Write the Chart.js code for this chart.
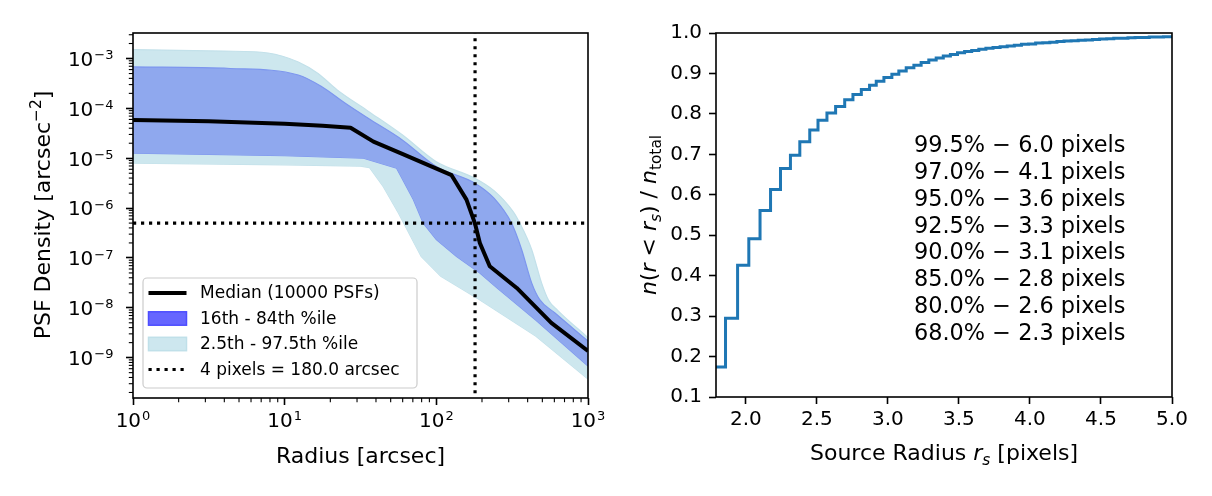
<!DOCTYPE html>
<html>
<head>
<meta charset="utf-8">
<script src="https://cdn.jsdelivr.net/npm/chart.js@4.4.1/dist/chart.umd.min.js"></script>
<style>
body{margin:0;background:#fff;}
#quadro{position:relative;width:1212px;height:496px;background:#fff;}
canvas{position:absolute;top:0;}
</style>
</head>
<body>
<div id="quadro">
  <canvas id="graficoPsf" width="615" height="496" style="left:0"></canvas>
  <canvas id="graficoFracao" width="597" height="496" style="left:615px"></canvas>
</div>
<script>
// Dados painel esquerdo (densidade da PSF x raio)

const raioMediana = [1, 3.16, 10, 17.8, 27.2, 38.5, 59.6, 126, 158, 179.5, 193.6, 225, 339, 573, 1000]
const densMediana = [5.85e-5, 5.5e-5, 4.9e-5, 4.47e-5, 4.1e-5, 2.15e-5, 1.22e-5, 4.57e-6, 1.48e-6, 5.0e-7, 2.0e-7, 6.8e-8, 2.5e-8, 5.0e-9, 1.36e-9]

const raio84 = [1, 4.37, 12.3, 17.6, 25.1, 35.5, 59.6, 100, 179.5, 240, 313, 365, 425, 479, 603, 1000]
const dens84 = [6.8e-4, 6.31e-4, 4.68e-4, 2.71e-4, 1.26e-4, 6.31e-5, 2.33e-5, 6.81e-6, 3.16e-6, 1.58e-6, 5.0e-7, 1.48e-7, 3.16e-8, 1.48e-8, 7.94e-9, 2.15e-9]

const raio16 = [1, 10, 33.1, 54.7, 70.5, 82.0, 100, 136, 193.6, 251, 454, 1000]
const dens16 = [1.26e-5, 1.12e-5, 1.0e-5, 6.31e-6, 1.48e-6, 5.0e-7, 2.34e-7, 1.07e-7, 5.0e-8, 2.51e-8, 5.62e-9, 6.8e-10]

const raio975 = [1, 3.98, 7.76, 12.3, 16.6, 22.2, 35.3, 59.6, 100, 179.5, 240, 321, 355, 425, 494, 550, 631, 1000]
const dens975 = [1.51e-3, 1.41e-3, 1.29e-3, 8.5e-4, 5.0e-4, 2.34e-4, 8.9e-5, 2.95e-5, 8.5e-6, 3.98e-6, 2.24e-6, 8.5e-7, 5.0e-7, 1.48e-7, 3.16e-8, 1.41e-8, 8.9e-9, 2.51e-9]

const raio25 = [1, 10, 31.6, 36.3, 44.7, 56.2, 79.4, 107, 190.5, 454, 1000]
const dens25 = [7.94e-6, 7.36e-6, 6.92e-6, 6.5e-6, 2.69e-6, 7.94e-7, 1.07e-7, 4.27e-8, 1.48e-8, 2.69e-9, 3.72e-10]

const raioCorte = 180
const densCorte = 5e-7

const ticksRaio = [1, 10, 100, 1000]
const ticksDens = [1e-9, 1e-8, 1e-7, 1e-6, 1e-5, 1e-4, 1e-3]

const legendaPsf = ['Median (10000 PSFs)', '16th - 84th %ile', '2.5th - 97.5th %ile', '4 pixels = 180.0 arcsec']

// Dados painel direito (fracao acumulada x raio da fonte)

const raioFonte = [1.79, 1.857, 1.942, 2.021, 2.100, 2.174, 2.244, 2.314, 2.38, 2.45, 2.508, 2.571, 2.632, 2.696, 2.754, 2.813, 2.871, 2.918, 2.972, 3.028, 3.077, 3.129, 3.183, 3.234, 3.288, 3.34, 3.39, 3.44, 3.49, 3.54, 3.59, 3.64, 3.69, 3.74, 3.79, 3.84, 3.89, 3.94, 3.99, 4.04, 4.09, 4.14, 4.19, 4.24, 4.29, 4.34, 4.39, 4.44, 4.49, 4.54, 4.59, 4.64, 4.69, 4.74, 4.79, 4.84, 4.89, 4.94, 5.0]
const fracaoAcum = [0.174, 0.295, 0.426, 0.491, 0.561, 0.613, 0.665, 0.698, 0.731, 0.760, 0.784, 0.802, 0.818, 0.835, 0.848, 0.860, 0.871, 0.881, 0.890, 0.898, 0.906, 0.914, 0.920, 0.927, 0.933, 0.938, 0.943, 0.947, 0.951, 0.954, 0.957, 0.960, 0.962, 0.964, 0.966, 0.968, 0.970, 0.972, 0.973, 0.975, 0.976, 0.977, 0.979, 0.980, 0.981, 0.982, 0.983, 0.984, 0.985, 0.986, 0.987, 0.987, 0.988, 0.989, 0.989, 0.990, 0.990, 0.991, 0.991]

const ticksFonteX = [2.0, 2.5, 3.0, 3.5, 4.0, 4.5, 5.0]
const ticksFonteY = [0.1, 0.2, 0.3, 0.4, 0.5, 0.6, 0.7, 0.8, 0.9, 1.0]

const percentis = [99.5, 97.0, 95.0, 92.5, 90.0, 85.0, 80.0, 68.0]
const raiosPercentil = [6.0, 4.1, 3.6, 3.3, 3.1, 2.8, 2.6, 2.3]

// utilitarios

const FONTE = '"DejaVu Sans"'

function pontos(xs, ys){
    return xs.map((x, i) => ({x: x, y: ys[i]}))
}

function expoente(v){
    return String(Math.round(Math.log10(v))).replace('-', '−')
}

// desenha texto com partes italicas / subscritas / sobrescritas
function textoRico(ctx, partes, x, y, tamanho, angulo){
    ctx.save()
    ctx.translate(x, y)
    if(angulo) ctx.rotate(angulo)
    const fontes = partes.map(p => {
        const s = (p.sub || p.sup) ? tamanho * 0.7 : tamanho
        return (p.it ? 'italic ' : '') + s + 'px ' + FONTE
    })
    let total = 0
    const larguras = partes.map((p, i) => {
        ctx.font = fontes[i]
        const w = ctx.measureText(p.t).width
        total += w
        return w
    })
    let cx = -total / 2
    ctx.fillStyle = '#000'
    ctx.textAlign = 'left'
    ctx.textBaseline = 'alphabetic'
    partes.forEach((p, i) => {
        ctx.font = fontes[i]
        let dy = tamanho * 0.36
        if(p.sub) dy += tamanho * 0.22
        if(p.sup) dy -= tamanho * 0.4
        ctx.fillText(p.t, cx, dy)
        cx += larguras[i]
    })
    ctx.restore()
}

// rotulo 10^n; alinhamento: 'center' (eixo x) ou 'right' (eixo y)
function rotuloPotencia(ctx, v, x, base, alinhamento){
    const sup = expoente(v)
    ctx.font = '20px ' + FONTE
    const w1 = ctx.measureText('10').width
    ctx.font = '13px ' + FONTE
    const w2 = ctx.measureText(sup).width
    const total = w1 + w2 + 1
    const x0 = alinhamento === 'center' ? x - total / 2 : x - total
    ctx.textAlign = 'left'
    ctx.textBaseline = 'alphabetic'
    ctx.fillStyle = '#000'
    ctx.font = '20px ' + FONTE
    ctx.fillText('10', x0, base)
    ctx.font = '13px ' + FONTE
    ctx.fillText(sup, x0 + w1 + 1, base - 6.6)
}

const moldura = {
    id: 'moldura',
    afterDraw(chart){
        const ctx = chart.ctx
        const a = chart.chartArea
        ctx.save()
        ctx.strokeStyle = '#000'
        ctx.lineWidth = 1.6
        ctx.strokeRect(a.left, a.top, a.right - a.left, a.bottom - a.top)
        ctx.restore()
    }
}

function linha(ctx, x1, y1, x2, y2){
    ctx.beginPath()
    ctx.moveTo(x1, y1)
    ctx.lineTo(x2, y2)
    ctx.stroke()
}

const ticksLog = {
    id: 'ticksLog',
    afterDraw(chart){
        const ctx = chart.ctx
        const a = chart.chartArea
        const sx = chart.scales.x
        const sy = chart.scales.y
        ctx.save()
        ctx.strokeStyle = '#000'
        ctx.lineWidth = 1.1
        for(let e = -11; e <= 3; e++){
            for(let k = 2; k <= 9; k++){
                const v = k * Math.pow(10, e)
                if(v > sx.min && v < sx.max){
                    const p = sx.getPixelForValue(v)
                    linha(ctx, p, a.bottom, p, a.bottom + 4.2)
                }
                if(v > sy.min && v < sy.max){
                    const p = sy.getPixelForValue(v)
                    linha(ctx, a.left - 4.2, p, a.left, p)
                }
            }
        }
        for(const v of ticksRaio){
            rotuloPotencia(ctx, v, sx.getPixelForValue(v), 426.5, 'center')
        }
        for(const v of ticksDens){
            rotuloPotencia(ctx, v, 113.5, sy.getPixelForValue(v) + 7.3, 'right')
        }
        ctx.restore()
    }
}

const textosPsf = {
    id: 'textosPsf',
    afterDraw(chart){
        const ctx = chart.ctx
        textoRico(ctx, [{t: 'Radius [arcsec]'}], 360.5, 455, 22)
        textoRico(ctx, [{t: 'PSF Density [arcsec'}, {t: '−2', sup: true}, {t: ']'}], 42, 215, 22, -Math.PI / 2)

        // legenda dentro do grafico
        ctx.save()
        const bx = 143, by = 278, bw = 274, bh = 110
        ctx.beginPath()
        ctx.roundRect(bx, by, bw, bh, 4)
        ctx.fillStyle = 'rgba(255,255,255,0.8)'
        ctx.fill()
        ctx.strokeStyle = '#cccccc'
        ctx.lineWidth = 1.2
        ctx.stroke()

        const linhasY = [293, 318.5, 344, 369.5]
        const x1 = 148.5, x2 = 186.5

        ctx.strokeStyle = '#000'
        ctx.lineWidth = 4
        linha(ctx, x1, linhasY[0], x2, linhasY[0])

        ctx.fillStyle = '#6666ff'
        ctx.strokeStyle = '#4d4dff'
        ctx.lineWidth = 1.5
        ctx.fillRect(x1, linhasY[1] - 6.7, x2 - x1, 13.4)
        ctx.strokeRect(x1, linhasY[1] - 6.7, x2 - x1, 13.4)

        ctx.fillStyle = '#cde7ef'
        ctx.strokeStyle = '#c0e0e9'
        ctx.fillRect(x1, linhasY[2] - 6.7, x2 - x1, 13.4)
        ctx.strokeRect(x1, linhasY[2] - 6.7, x2 - x1, 13.4)

        ctx.strokeStyle = '#000'
        ctx.lineWidth = 3.2
        ctx.setLineDash([3.2, 4.8])
        linha(ctx, x1, linhasY[3], x2, linhasY[3])
        ctx.setLineDash([])

        ctx.fillStyle = '#000'
        ctx.font = '17px ' + FONTE
        ctx.textAlign = 'left'
        ctx.textBaseline = 'middle'
        for(let i = 0; i < legendaPsf.length; i++){
            ctx.fillText(legendaPsf[i], 200, linhasY[i] + 1)
        }
        ctx.restore()
    }
}

const textosFracao = {
    id: 'textosFracao',
    afterDraw(chart){
        const ctx = chart.ctx
        textoRico(ctx, [{t: 'Source Radius '}, {t: 'r', it: true}, {t: 's', it: true, sub: true}, {t: ' [pixels]'}], 329, 452, 22)
        textoRico(ctx, [
            {t: 'n', it: true}, {t: '('}, {t: 'r', it: true}, {t: ' < '}, {t: 'r', it: true}, {t: 's', it: true, sub: true},
            {t: ') / '}, {t: 'n', it: true}, {t: 'total', sub: true}
        ], 33, 215, 22, -Math.PI / 2)

        ctx.save()
        ctx.fillStyle = '#000'
        ctx.font = '22.4px ' + FONTE
        ctx.textAlign = 'left'
        ctx.textBaseline = 'middle'
        for(let i = 0; i < percentis.length; i++){
            const texto = percentis[i].toFixed(1) + '% − ' + raiosPercentil[i].toFixed(1) + ' pixels'
            ctx.fillText(texto, 299, 146 + i * 26.9)
        }
        ctx.restore()
    }
}

const fonteTicks = {family: FONTE, size: 20}

function eixo(extra){
    return Object.assign({
        grid: {drawOnChartArea: false, drawTicks: true, tickLength: 7, tickWidth: 1.6, tickColor: '#000'},
        border: {display: false},
        title: {display: false}
    }, extra)
}

// Grafico esquerdo

new Chart(document.getElementById('graficoPsf'), {
    type: 'line',
    data: {
        datasets: [
            {data: pontos([raioCorte, raioCorte], [1e-11, 1e-2]), borderColor: '#000', borderWidth: 3.2, borderDash: [3.2, 4.8], pointRadius: 0, fill: false},
            {data: pontos([1, 1000], [densCorte, densCorte]), borderColor: '#000', borderWidth: 3.2, borderDash: [3.2, 4.8], pointRadius: 0, fill: false},
            {data: pontos(raioMediana, densMediana), borderColor: '#000', borderWidth: 4, pointRadius: 0, fill: false, borderJoinStyle: 'round'},
            {data: pontos(raio84, dens84), borderColor: '#7d96ee', borderWidth: 1.2, backgroundColor: '#8fa8ee', pointRadius: 0, fill: 4, cubicInterpolationMode: 'monotone'},
            {data: pontos(raio16, dens16), borderColor: '#7d96ee', borderWidth: 1.2, pointRadius: 0, fill: false},
            {data: pontos(raio975, dens975), borderColor: '#c3e1ea', borderWidth: 1.2, backgroundColor: '#cde7ee', pointRadius: 0, fill: 6, cubicInterpolationMode: 'monotone'},
            {data: pontos(raio25, dens25), borderColor: '#c3e1ea', borderWidth: 1.2, pointRadius: 0, fill: false}
        ]
    },
    options: {
        responsive: false,
        animation: false,
        devicePixelRatio: 1,
        layout: {autoPadding: false, padding: {left: 0, top: 33, right: 27, bottom: 0}},
        plugins: {legend: {display: false}, tooltip: {enabled: false}},
        scales: {
            x: eixo({
                type: 'logarithmic', min: 1, max: 1000,
                afterFit(s){ s.height = 98 },
                afterBuildTicks(s){ s.ticks = ticksRaio.map(v => ({value: v, major: true})) },
                ticks: {font: fonteTicks, color: '#000', padding: 4, maxRotation: 0, autoSkip: false, callback: () => ''}
            }),
            y: eixo({
                type: 'logarithmic', min: 1.55e-10, max: 3.25e-3,
                afterFit(s){ s.width = 133 },
                afterBuildTicks(s){ s.ticks = ticksDens.map(v => ({value: v, major: true})) },
                ticks: {font: fonteTicks, color: '#000', padding: 8, autoSkip: false, callback: () => ''}
            })
        }
    },
    plugins: [ticksLog, moldura, textosPsf]
})

// Grafico direito

new Chart(document.getElementById('graficoFracao'), {
    type: 'line',
    data: {
        datasets: [{
            data: pontos(raioFonte, fracaoAcum),
            stepped: 'before',
            borderColor: '#1f77b4',
            borderWidth: 3,
            pointRadius: 0,
            fill: false
        }]
    },
    options: {
        responsive: false,
        animation: false,
        devicePixelRatio: 1,
        layout: {autoPadding: false, padding: {left: 0, top: 33, right: 40, bottom: 0}},
        plugins: {legend: {display: false}, tooltip: {enabled: false}},
        scales: {
            x: eixo({
                type: 'linear', min: 1.79, max: 5.0,
                afterFit(s){ s.height = 99 },
                afterBuildTicks(s){ s.ticks = ticksFonteX.map(v => ({value: v})) },
                ticks: {font: fonteTicks, color: '#000', padding: 4, maxRotation: 0, autoSkip: false, callback: v => v.toFixed(1)}
            }),
            y: eixo({
                type: 'linear', min: 0.1, max: 1.0,
                afterFit(s){ s.width = 101 },
                afterBuildTicks(s){ s.ticks = ticksFonteY.map(v => ({value: v})) },
                ticks: {font: fonteTicks, color: '#000', padding: 7, autoSkip: false, callback: v => v.toFixed(1)}
            })
        }
    },
    plugins: [moldura, textosFracao]
})
</script>
</body>
</html>
